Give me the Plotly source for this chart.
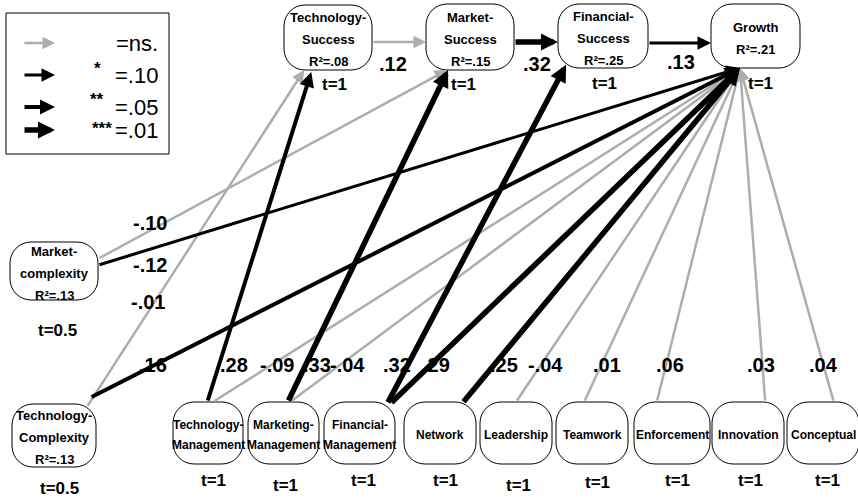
import plotly.graph_objects as go

# ---------------- model values ----------------
node_keys = ["TS", "MS", "FS", "GR", "MC", "TC", "TM", "MM", "FM",
             "NW", "LD", "TW", "EN", "IN", "CO"]
node_names = ["Technology-\nSuccess", "Market-\nSuccess", "Financial-\nSuccess", "Growth",
              "Market-\ncomplexity", "Technology-\nComplexity",
              "Technology-\nManagement", "Marketing-\nManagement", "Financial-\nManagement",
              "Network", "Leadership", "Teamwork", "Enforcement", "Innovation", "Conceptual"]
r_squared = [.08, .15, .25, .21, .13, .13, None, None, None,
             None, None, None, None, None, None]
t_values = ["1", "1", "1", "1", "0.5", "0.5", "1", "1", "1", "1", "1", "1", "1", "1", "1"]

edge_from = ["TS", "MS", "FS", "MC", "MC", "TC", "TC", "TM", "TM", "MM",
             "MM", "FM", "FM", "NW", "LD", "TW", "EN", "IN", "CO"]
edge_to = ["MS", "FS", "GR", "MS", "GR", "TS", "GR", "TS", "GR", "MS",
           "GR", "FS", "GR", "GR", "GR", "GR", "GR", "GR", "GR"]
path_coef = [.12, .32, .13, -.10, -.12, -.01, .16, .28, -.09, .33,
             -.04, .32, .29, .25, -.04, .01, .06, .03, .04]
signif = ["ns", "***", "*", "ns", "*", "ns", "**", "**", "ns", "***",
          "ns", "***", "***", "***", "ns", "ns", "ns", "ns", "ns"]

legend_levels = ["ns", "*", "**", "***"]
legend_text = ["=ns.", "=.10", "=.05", "=.01"]

# ---------------- drawing layout ----------------
W, H = 858, 498
FONT = "Liberation Sans, Arial, sans-serif"
GRAY = "#adadad"

# node boxes (x0, y0, x1, y1) in pixel space
node_box = {
    "TS": (284, 5, 372, 70), "MS": (426, 4, 514, 70), "FS": (558, 4, 648, 68),
    "GR": (711, 4, 800, 68), "MC": (10, 242, 98, 300), "TC": (12, 404, 96, 467),
    "TM": (173, 402, 243, 464), "MM": (248, 402, 319, 464), "FM": (324, 402, 395, 464),
    "NW": (404, 402, 476, 464), "LD": (480, 402, 552, 464), "TW": (556, 402, 628, 464),
    "EN": (634, 402, 710, 464), "IN": (712, 402, 784, 464), "CO": (787, 402, 859, 464),
}
node_radius = 21
# position of the "t=" caption under each node
t_pos = {
    "TS": (334, 84), "MS": (463, 84), "FS": (604, 83), "GR": (760, 83),
    "MC": (57, 330), "TC": (59, 488),
    "TM": (213, 480), "MM": (285, 485), "FM": (363, 480), "NW": (445, 480),
    "LD": (518, 485), "TW": (597, 482), "EN": (677, 480), "IN": (750, 480), "CO": (827, 480),
}

# anchor points of each path on its boxes, as fractions of box width / height
edge_tail = [(1.0, .57), (1.0, .576), (1.0, .61), (1.0, .29), (1.0, .40), (.89, .05),
             (.93, -.10), (.49, 0), (.57, 0), (.56, 0), (.59, 0), (.89, .03), (.93, .03),
             (.81, .02), (.50, 0), (.39, 0), (.30, 0), (.74, 0), (.65, 0)]
edge_head = [(0, .576), (0, .594), (0, .61), (.24, 1.0), (.326, 1.0), (.23, 1.0),
             (.326, 1.0), (.31, 1.03), (.326, 1.0), (.25, 1.0), (.326, 1.0), (.09, .95),
             (.326, 1.0), (.326, 1.0), (.326, 1.0), (.326, 1.0), (.326, 1.0), (.326, 1.0),
             (.326, 1.0)]
# where each coefficient is written
coef_pos = [(393, 64), (537, 64), (681, 62), (150, 223), (150, 265), (148, 302),
            (153, 365), (234, 365), (277, 365), (317, 365), (347, 365), (397, 365),
            (436, 365), (504, 365), (545, 365), (607, 365), (670, 365), (761, 365),
            (823, 365)]

# arrow style per significance level: colour, line width, head scale
style = {
    "ns": (GRAY, 2.5, 1.0),
    "*": ("black", 3.0, 0.9),
    "**": ("black", 4.0, 0.75),
    "***": ("black", 5.5, 0.62),
}


def fmt_coef(v):
    s = f"{v:.2f}"
    return s.replace("0.", ".", 1)


def rounded_path(x0, y0, x1, y1, r):
    c = 0.5523 * r
    return (f"M{x0 + r},{y0} L{x1 - r},{y0} "
            f"C{x1 - r + c},{y0} {x1},{y0 + r - c} {x1},{y0 + r} "
            f"L{x1},{y1 - r} "
            f"C{x1},{y1 - r + c} {x1 - r + c},{y1} {x1 - r},{y1} "
            f"L{x0 + r},{y1} "
            f"C{x0 + r - c},{y1} {x0},{y1 - r + c} {x0},{y1 - r} "
            f"L{x0},{y0 + r} "
            f"C{x0},{y0 + r - c} {x0 + r - c},{y0} {x0 + r},{y0} Z")


def anchor(key, frac):
    x0, y0, x1, y1 = node_box[key]
    return x0 + frac[0] * (x1 - x0), y0 + frac[1] * (y1 - y0)


def label(x, y, text, size, bold=True, xanchor="center"):
    return dict(x=x, y=y, xref="x", yref="y", text=f"<b>{text}</b>" if bold else text,
                showarrow=False, xanchor=xanchor, yanchor="middle",
                font=dict(family=FONT, size=size, color="black"))


def arrow(tail, head, level):
    color, width, head_scale = style[level]
    return dict(x=head[0], y=head[1], ax=tail[0], ay=tail[1],
                xref="x", yref="y", axref="x", ayref="y", text="",
                showarrow=True, arrowhead=2, arrowsize=head_scale, arrowwidth=width,
                arrowcolor=color, standoff=0, startstandoff=0)


shapes = []
annotations = []

# nodes with their text
for key, name, r2, t in zip(node_keys, node_names, r_squared, t_values):
    x0, y0, x1, y1 = node_box[key]
    shapes.append(dict(type="path", path=rounded_path(x0, y0, x1, y1, node_radius),
                       xref="x", yref="y", line=dict(color="black", width=1),
                       fillcolor="white", layer="below"))
    lines = name.split("\n")
    if r2 is not None:
        lines.append(f"R²={fmt_coef(r2)}")
    bottom_row = y0 > 380 and key != "TC"
    spacing = 20 if bottom_row else 22
    size = 12 if bottom_row else 13
    cx, cy = (x0 + x1) / 2, (y0 + y1) / 2 + 2
    n = len(lines)
    for i, line in enumerate(lines):
        annotations.append(label(cx, cy + (i - (n - 1) / 2) * spacing, line, size))
    tx, ty = t_pos[key]
    annotations.append(label(tx, ty, f"t={t}", 17))

# paths: non-significant first so that black ones lie on top
order = sorted(range(len(edge_from)), key=lambda i: signif[i] != "ns")
for i in order:
    tail = anchor(edge_from[i], edge_tail[i])
    head = anchor(edge_to[i], edge_head[i])
    annotations.append(arrow(tail, head, signif[i]))

for i, v in enumerate(path_coef):
    x, y = coef_pos[i]
    annotations.append(label(x, y, fmt_coef(v), 20))

# significance key
shapes.append(dict(type="rect", x0=6, y0=13, x1=169, y1=154, xref="x", yref="y",
                   line=dict(color="black", width=1), fillcolor="white", layer="below"))
key_rows = [43, 75, 107, 130]
star_pos = [None, (97, 68), (97, 99), (102, 128)]
for lvl, txt, yy, sp in zip(legend_levels, legend_text, key_rows, star_pos):
    annotations.append(arrow((23, yy), (55, yy), lvl))
    annotations.append(label(160, yy, txt, 22, bold=False, xanchor="right"))
    if sp is not None:
        annotations.append(label(sp[0], sp[1], lvl, 17, bold=True))

fig = go.Figure()
fig.add_trace(go.Scatter(x=[0, W], y=[0, H], mode="markers",
                         marker=dict(opacity=0), hoverinfo="skip", showlegend=False))
fig.update_layout(
    width=W, height=H, margin=dict(l=0, r=0, t=0, b=0),
    paper_bgcolor="white", plot_bgcolor="white",
    xaxis=dict(range=[0, W], visible=False, fixedrange=True),
    yaxis=dict(range=[H, 0], visible=False, fixedrange=True),
    shapes=shapes, annotations=annotations, showlegend=False,
)
fig.write_html("out.html")
